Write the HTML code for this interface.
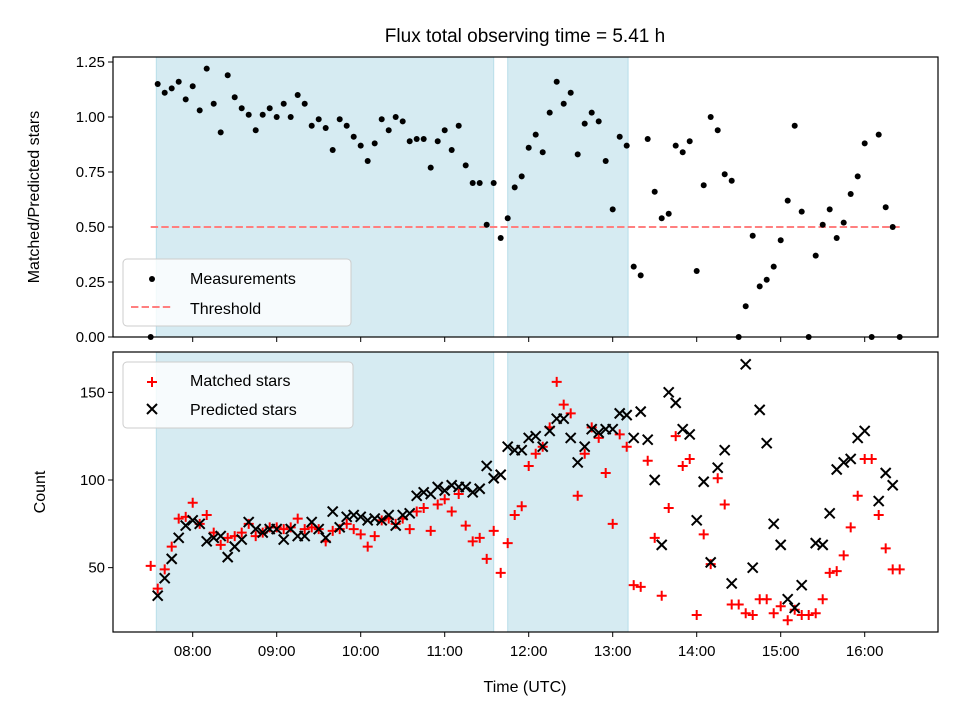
<!DOCTYPE html>
<html><head><meta charset="utf-8"><style>
body{margin:0;background:#fff;}
svg{display:block;font-family:"Liberation Sans","DejaVu Sans",sans-serif;}
</style></head><body>
<svg id="c" width="960" height="720"></svg>
<script>
const startMinutes = 450; // 07:30
const stepMinutes = 5;
const ratioValues = [0,1.15,1.11,1.13,1.16,1.08,1.14,1.03,1.22,1.06,0.93,1.19,1.09,1.04,1.01,0.94,1.01,1.04,1.00,1.06,1.00,1.10,1.06,0.96,0.99,0.95,0.85,0.99,0.96,0.91,0.87,0.80,0.88,0.99,0.94,1.00,0.98,0.89,0.90,0.90,0.77,0.89,0.94,0.85,0.96,0.78,0.70,0.70,0.51,0.70,0.45,0.54,0.68,0.73,0.86,0.92,0.84,1.02,1.16,1.06,1.11,0.83,0.97,1.02,0.98,0.80,0.58,0.91,0.87,0.32,0.28,0.90,0.66,0.54,0.56,0.87,0.84,0.89,0.30,0.69,1.00,0.94,0.74,0.71,0,0.14,0.46,0.23,0.26,0.32,0.44,0.62,0.96,0.57,0,0.37,0.51,0.58,0.45,0.52,0.65,0.73,0.88,0,0.92,0.59,0.50,0];
const matchedValues = [51,38,49,62,78,79,87,75,80,70,63,67,68,70,75,68,70,73,73,72,73,78,72,73,72,65,71,72,75,72,69,62,68,77,78,75,78,72,82,84,71,86,89,82,92,74,65,67,55,71,47,64,80,85,108,115,119,130,156,143,138,91,115,130,124,104,75,126,119,40,39,111,67,34,84,125,108,112,23,69,52,101,86,29,29,24,23,32,32,24,28,20,26,23,23,24,32,47,48,57,73,91,112,112,80,61,49,49];
const predictedValues = [null,34,44,55,67,74,77,75,65,67,68,56,62,66,76,72,70,72,72,66,72,68,68,76,72,67,82,73,79,80,79,77,78,77,80,74,80,81,91,93,92,96,94,97,96,96,93,95,108,101,103,119,117,117,124,125,119,128,135,135,124,110,119,129,127,129,129,138,137,124,139,123,100,63,150,144,129,126,77,99,53,107,117,41,null,166,50,140,121,75,63,32,27,40,null,64,63,81,106,110,112,124,128,null,88,104,97,null];
const spans = [[454,695],[705,791]];
const hourTicks = ["08:00","09:00","10:00","11:00","12:00","13:00","14:00","15:00","16:00"];
const ratioTicks = [0,0.25,0.5,0.75,1.0,1.25];
const countTicks = [50,100,150];
const threshold = 0.5;

const NS="http://www.w3.org/2000/svg";
const svg=document.getElementById('c');
function mk(tag,attrs,parent){const e=document.createElementNS(NS,tag);for(const k in attrs)e.setAttribute(k,attrs[k]);(parent||svg).appendChild(e);return e;}
const L=113,R=938;
const xs=m=>192.7+(m-480)*1.4;
const T1=57,B1=337, yr=v=>337-v*220;
const T2=352,B2=632, yc=v=>480-(v-100)*1.753;
const tm=i=>startMinutes+i*stepMinutes;

let e=mk('text',{x:525,y:42,'text-anchor':'middle','font-size':'19'});e.textContent='Flux total observing time = 5.41 h';



function panel(top,bot,name){
  const g=mk('g',{});
  
  
  spans.forEach((s,i)=>{const r=mk('rect',{x:xs(s[0]),y:top,width:xs(s[1])-xs(s[0]),height:bot-top,fill:'#add8e6','fill-opacity':0.5,stroke:'#add8e6','stroke-opacity':0.8},g);
    
    });
  return g;
}
const g1=panel(T1,B1,'ratio-panel');
const g2=panel(T2,B2,'count-panel');

e=mk('line',{x1:xs(startMinutes),x2:xs(tm(ratioValues.length-1)),y1:yr(threshold),y2:yr(threshold),stroke:'#ff7f7f','stroke-width':2,'stroke-dasharray':'7.4,3.2'},g1);


ratioValues.forEach((v,i)=>{const c=mk('circle',{cx:xs(tm(i)),cy:yr(v),r:3,fill:'#000'},g1);
  
  });

const cp=mk('clipPath',{id:'cp2'});mk('rect',{x:L,y:T2,width:R-L,height:B2-T2},cp);
const gm=mk('g',{'clip-path':'url(#cp2)'},g2);
matchedValues.forEach((v,i)=>{if(v==null)return;const x=xs(tm(i)),y=yc(v);
  const p=mk('path',{d:`M${x-5},${y}H${x+5}M${x},${y-5}V${y+5}`,stroke:'#f00','stroke-width':2},gm);
  
  });
predictedValues.forEach((v,i)=>{if(v==null)return;const x=xs(tm(i)),y=yc(v);
  const p=mk('path',{d:`M${x-5},${y-5}L${x+5},${y+5}M${x-5},${y+5}L${x+5},${y-5}`,stroke:'#000','stroke-width':2},gm);
  
  });

[[T1,B1,'top'],[T2,B2,'bottom']].forEach(([t,b,n])=>{
  const f=mk('rect',{x:L,y:t,width:R-L,height:b-t,fill:'none',stroke:'#000','stroke-width':1.2});
  
  
  hourTicks.forEach((h,i)=>{const x=xs(480+60*i);mk('line',{x1:x,x2:x,y1:b,y2:b+5,stroke:'#000'});});
});
hourTicks.forEach((h,i)=>{const t=mk('text',{x:xs(480+60*i),y:B2+24,'text-anchor':'middle','font-size':'15'});t.textContent=h;
  
  });
ratioTicks.forEach(v=>{const y=yr(v);mk('line',{x1:L-5,x2:L,y1:y,y2:y,stroke:'#000'});
  const t=mk('text',{x:L-8,y:y+5,'text-anchor':'end','font-size':'15'});t.textContent=v.toFixed(2);
  
  });
countTicks.forEach(v=>{const y=yc(v);mk('line',{x1:L-5,x2:L,y1:y,y2:y,stroke:'#000'});
  const t=mk('text',{x:L-8,y:y+5,'text-anchor':'end','font-size':'15'});t.textContent=v;
  
  });

e=mk('text',{x:525,y:692,'text-anchor':'middle','font-size':'16'});e.textContent='Time (UTC)';


e=mk('text',{x:0,y:0,'text-anchor':'middle','font-size':'16',transform:'translate(39,197) rotate(-90)'});e.textContent='Matched/Predicted stars';


e=mk('text',{x:0,y:0,'text-anchor':'middle','font-size':'16',transform:'translate(45,492) rotate(-90)'});e.textContent='Count';



function legend(x,y,w,h,name){const r=mk('rect',{x:x,y:y,width:w,height:h,rx:4,fill:'#fff','fill-opacity':0.8,stroke:'#ccc'});
  
  }
legend(123,259,228,67,'ratio-legend');
mk('circle',{cx:152,cy:279,r:3,fill:'#000'});
e=mk('text',{x:190,y:284,'font-size':'16'});e.textContent='Measurements';


mk('line',{x1:131,x2:173,y1:307,y2:307,stroke:'#ff7f7f','stroke-width':2,'stroke-dasharray':'7.4,3.2'});
e=mk('text',{x:190,y:314,'font-size':'16'});e.textContent='Threshold';



legend(123,362,230,66,'count-legend');
mk('path',{d:'M147,382H157M152,377V387',stroke:'#f00','stroke-width':2});
e=mk('text',{x:190,y:386,'font-size':'16'});e.textContent='Matched stars';


mk('path',{d:'M147,404L157,414M147,414L157,404',stroke:'#000','stroke-width':2});
e=mk('text',{x:190,y:415,'font-size':'16'});e.textContent='Predicted stars';


</script>
</body></html>
